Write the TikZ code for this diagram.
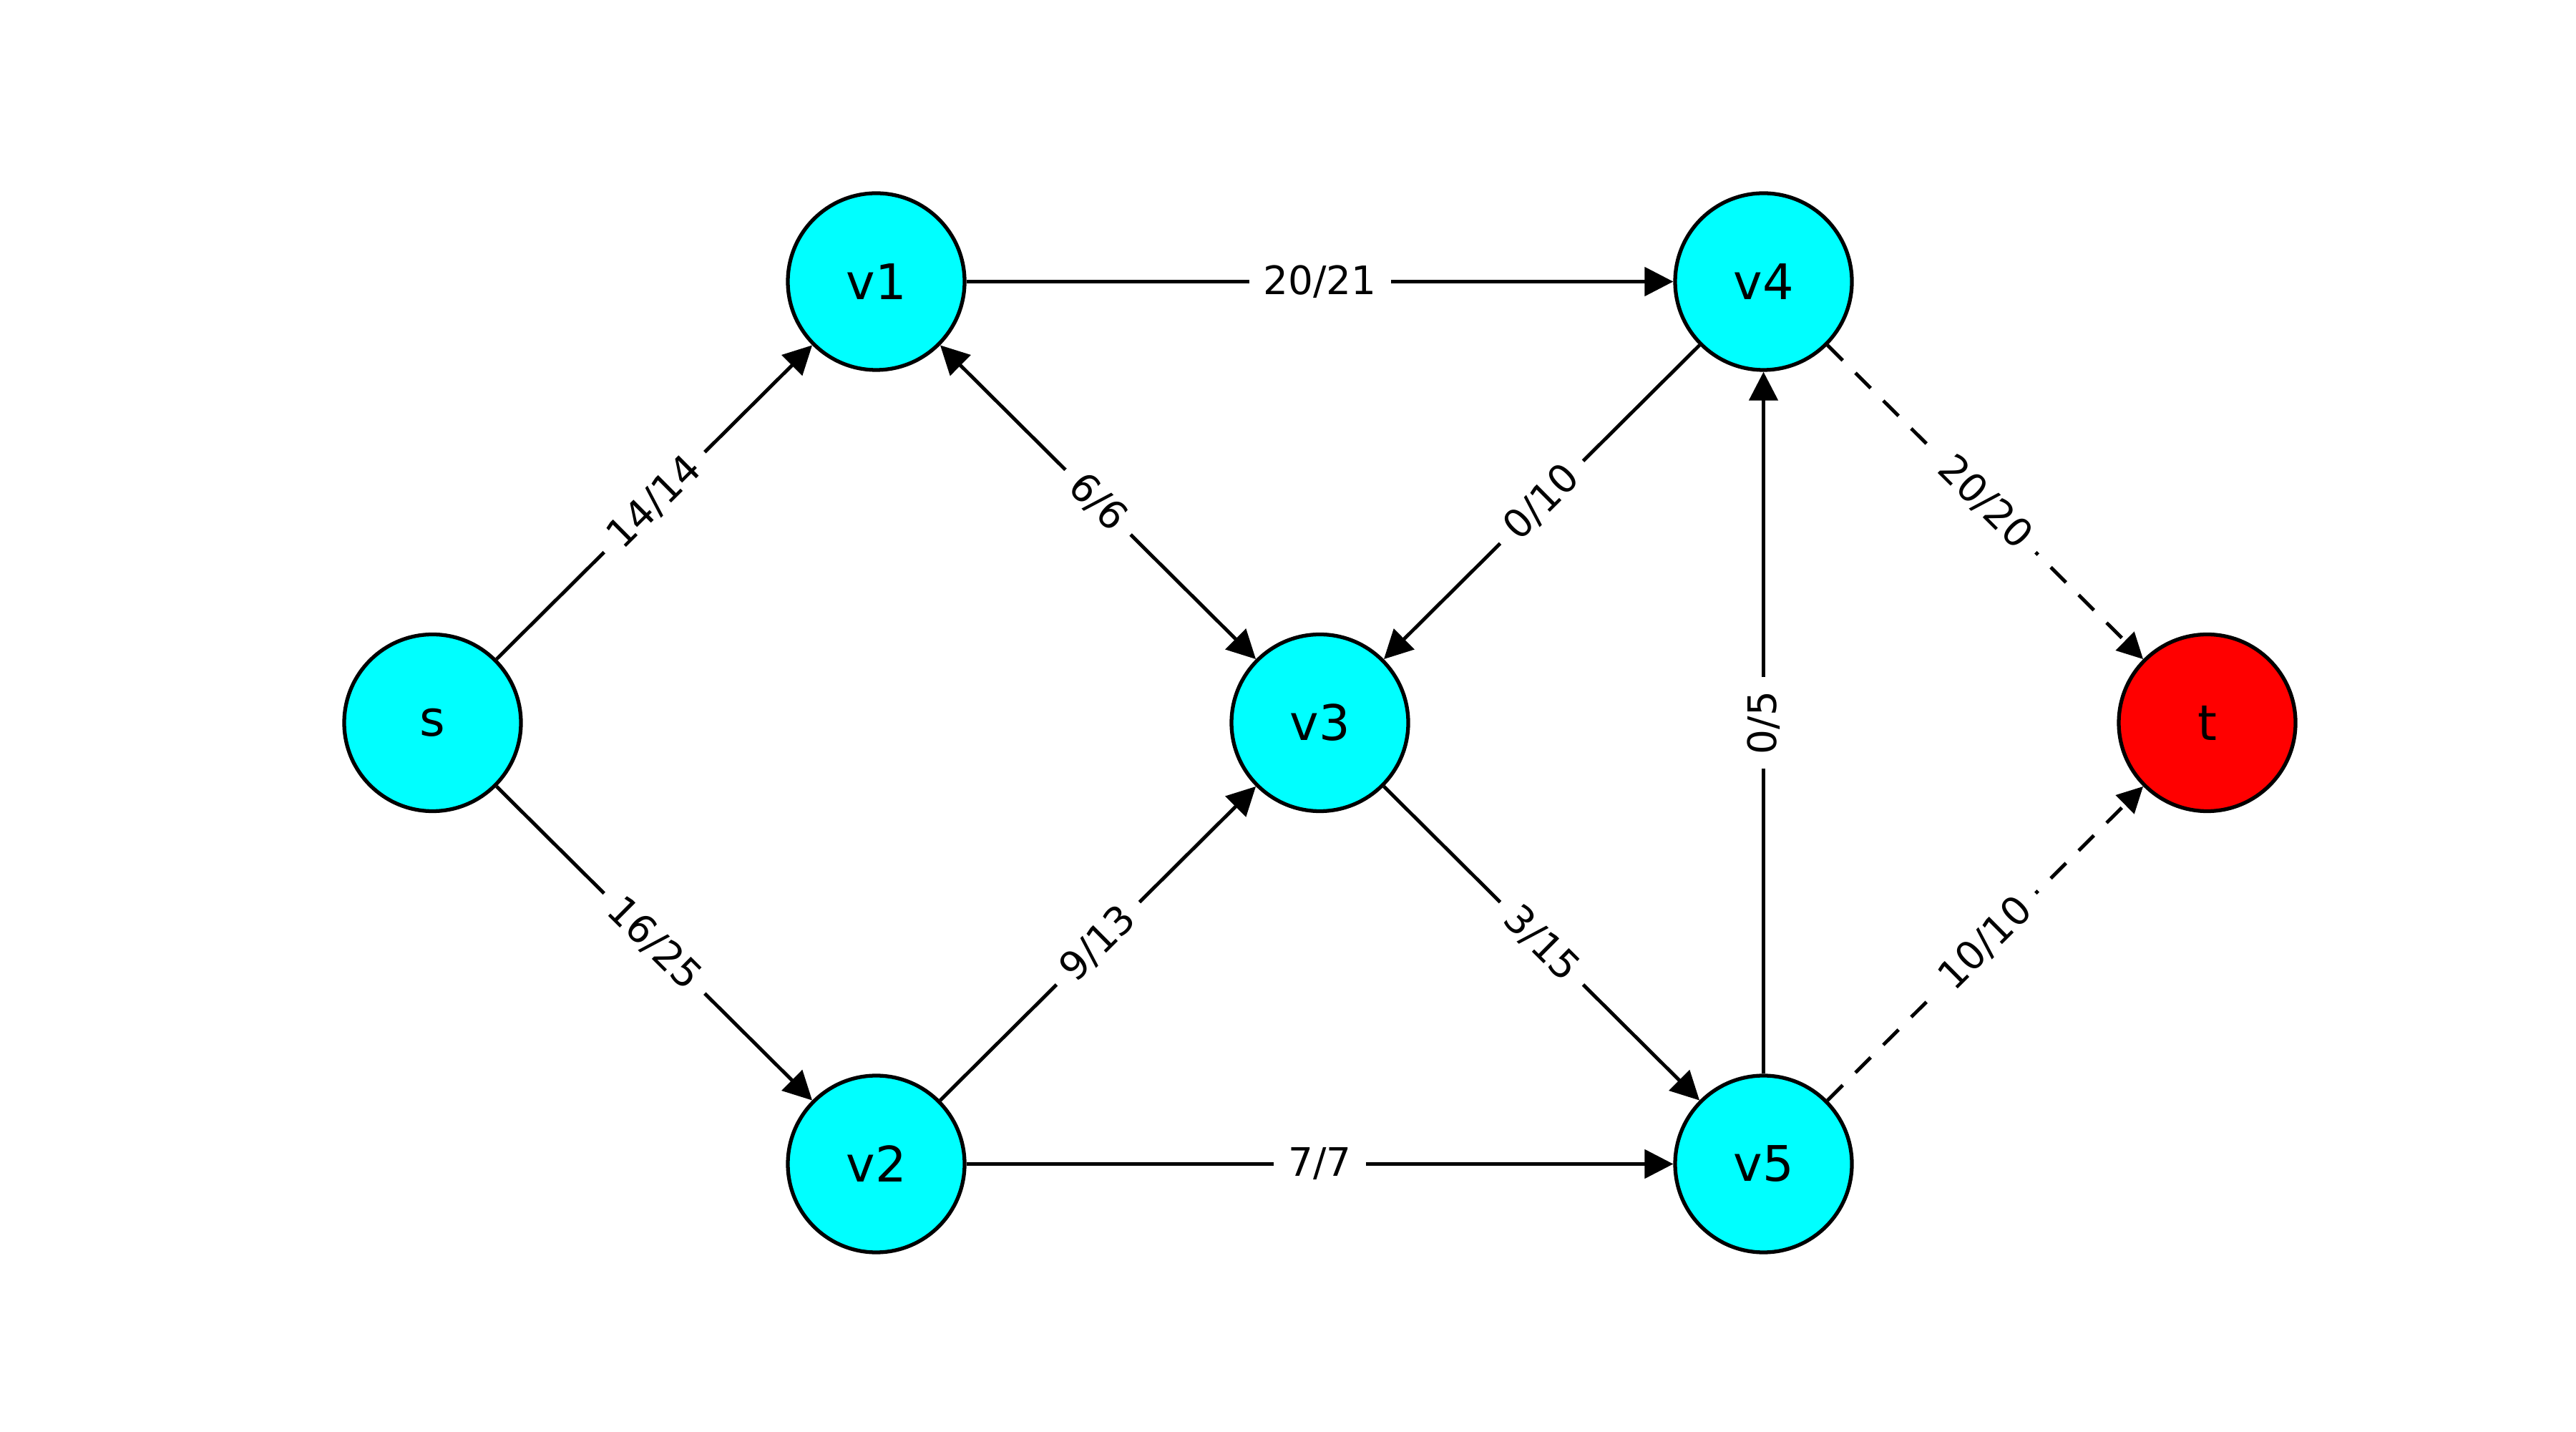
\documentclass[tikz,border=0pt]{standalone}
\usepackage{fontspec}
\setmainfont{DejaVu Sans}
\usetikzlibrary{arrows.meta}
\definecolor{vertexcolor}{RGB}{0, 255, 255}
\definecolor{sinkcolor}{RGB}{255, 0, 0}
\definecolor{edgecolor}{RGB}{0, 0, 0}
\tikzset{
vertex/.style={
  circle,
  draw=edgecolor,
  line width=1.5pt,
  fill=vertexcolor,
  minimum size=24.7mm,
  inner sep=0pt,
  font=\fontsize{19.5}{23}\selectfont
},
sinkvertex/.style={
  vertex,
  fill=sinkcolor
},
flowarrow/.style={
  -{Triangle[length=4mm,width=4mm]},
  line width=1.4pt,
  draw=edgecolor
},
botharrow/.style={
  flowarrow,
  {Triangle[length=4mm,width=4mm]}-{Triangle[length=4mm,width=4mm]}
},
dashedarrow/.style={
  -{Triangle[length=3.6mm,width=3.6mm]},
  line width=1.4pt,
  draw=edgecolor,
  dash pattern=on 3mm off 2.5mm
},
flowlabel/.style={
  midway,
  sloped,
  fill=white,
  inner xsep=2mm,
  inner ysep=1mm,
  font=\fontsize{15.6}{18}\selectfont
}
}

\begin{document}
\begin{tikzpicture}
  \useasboundingbox[fill=white] (0,0) rectangle (36,20);
  % vertices
  \node[vertex] (s) at (6.045,9.90) {s};
  \node[vertex] (v1) at (12.245,16.065) {v1};
  \node[vertex] (v2) at (12.245,3.735) {v2};
  \node[vertex] (v3) at (18.445,9.90) {v3};
  \node[vertex] (v4) at (24.645,16.065) {v4};
  \node[vertex] (v5) at (24.645,3.735) {v5};
  \node[sinkvertex] (t) at (30.845,9.90) {t};
  % edges with flow/capacity
  \draw[flowarrow] (s) -- node[flowlabel] {14/14} (v1);
  \draw[flowarrow] (s) -- node[flowlabel] {16/25} (v2);
  \draw[flowarrow] (v1) -- node[flowlabel] {20/21} (v4);
  \draw[botharrow] (v1) -- node[flowlabel] {6/6} (v3);
  \draw[flowarrow] (v2) -- node[flowlabel] {9/13} (v3);
  \draw[flowarrow] (v2) -- node[flowlabel] {7/7} (v5);
  \draw[flowarrow] (v4) -- node[flowlabel] {0/10} (v3);
  \draw[flowarrow] (v3) -- node[flowlabel] {3/15} (v5);
  \draw[flowarrow] (v5) -- node[flowlabel] {0/5} (v4);
  \draw[dashedarrow] (v4) -- node[flowlabel] {20/20} (t);
  \draw[dashedarrow] (v5) -- node[flowlabel] {10/10} (t);
\end{tikzpicture}
\end{document}
